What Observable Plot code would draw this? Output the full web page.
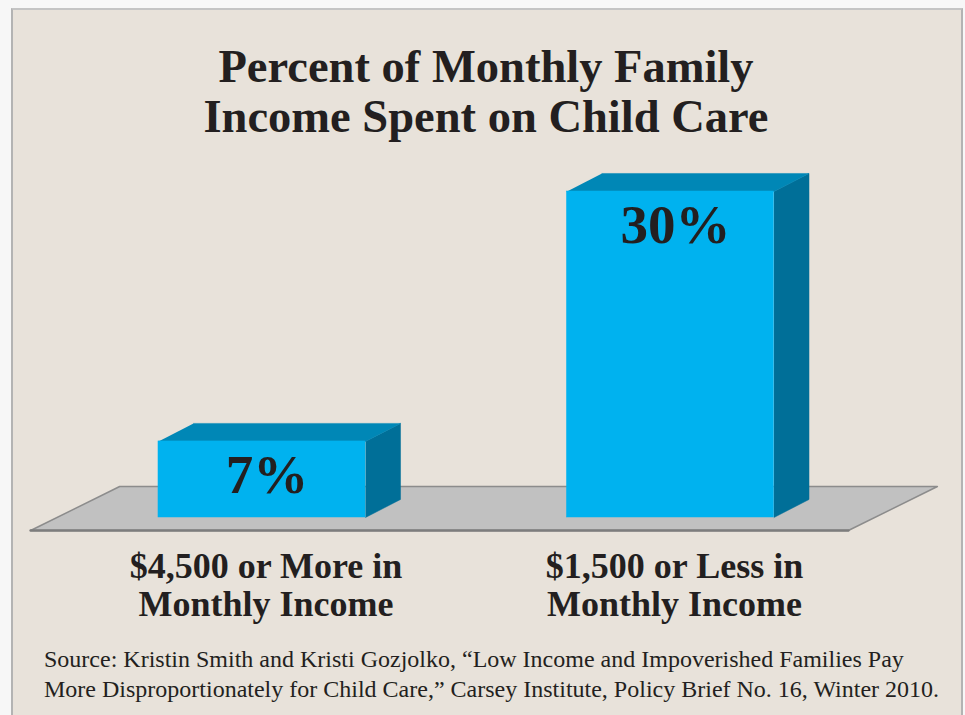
<!DOCTYPE html>
<html>
<head>
<meta charset="utf-8">
<script src="https://cdn.jsdelivr.net/npm/d3@7"></script>
<script src="https://cdn.jsdelivr.net/npm/@observablehq/plot@0.6"></script>
<style>
  html, body { margin: 0; padding: 0; background: #f7f7f7; width: 965px; height: 715px; overflow: hidden; }
  #panel { position: absolute; left: 11px; top: 8px; width: 948px; height: 720px; background: #e8e2da;
           border-left: 2px solid #b3b3b3; border-top: 2px solid #c4c4c4; border-right: 2px solid #b3b3b3; }
  #title { position: absolute; left: 0; top: 42px; width: 972px; text-align: center;
           font: bold 46.5px/50px "Liberation Serif", "Times New Roman", serif; color: #231f20; }
  #chart { position: absolute; left: 0; top: 150px; }
  #source { position: absolute; left: 44px; top: 644px; width: 915px; white-space: nowrap;
            font: 24px/30px "Liberation Serif", "Times New Roman", serif; color: #231f20; }
</style>
</head>
<body>
<div id="panel"></div>
<div id="title">Percent of Monthly Family<br>Income Spent on Child Care</div>
<div id="chart"></div>
<div id="source">Source: Kristin Smith and Kristi Gozjolko, “Low Income and Impoverished Families Pay<br>More Disproportionately for Child Care,” Carsey Institute, Policy Brief No. 16, Winter 2010.</div>
<script>
// ---- data ----
const categories = ["$4,500 or More in\nMonthly Income", "$1,500 or Less in\nMonthly Income"];
const values = [7, 30];
const valueLabels = ["7%", "30%"];

// ---- style / geometry (in data units) ----
const halfW = 0.2534;   // half width of a bar's front face
const depthX = 0.0857;  // oblique depth, x
const depthY = 1.66;    // oblique depth, y
const floorFront = -1.2, floorBack = 2.85;
const floorLeftPad = 0.313, floorRightPad = 0.182, floorSlant = 0.218;

const bars = values.map((v, i) => ({i, v, label: valueLabels[i], cat: categories[i]}));

const fronts = [], tops = [], sides = [];
bars.forEach(({i, v}) => {
  const l = i - halfW, r = i + halfW;
  fronts.push({x1: l, x2: r, y1: 0, y2: v});
  [[l, v], [r, v], [r + depthX, v + depthY], [l + depthX, v + depthY]].forEach(([x, y]) => tops.push({id: i, x, y}));
  [[r, 0], [r + depthX, depthY], [r + depthX, v + depthY], [r, v]].forEach(([x, y]) => sides.push({id: i, x, y}));
});
const fl = -halfW - floorLeftPad, fr = (bars.length - 1) + halfW + floorRightPad;
const floor = [[fl, floorFront], [fr, floorFront], [fr + floorSlant, floorBack], [fl + floorSlant, floorBack], [fl, floorFront]]
  .map(([x, y]) => ({x, y}));
const floorFrontEdge = [{x: fl, y: floorFront}, {x: fr, y: floorFront}];

const chart = Plot.plot({
  width: 965, height: 480,
  margin: 0,
  style: {background: "transparent", overflow: "visible"},
  x: {type: "linear", domain: [0, 1], range: [261.5, 670], axis: null},
  y: {type: "linear", domain: [0, 30], range: [367, 41], axis: null},
  marks: [
    Plot.line(floor, {x: "x", y: "y", fill: "#c1c1c1", stroke: "#8c8c8c", strokeWidth: 1.5}),
    Plot.line(floorFrontEdge, {x: "x", y: "y", stroke: "#7d7d7d", strokeWidth: 2.5}),
    Plot.line(sides, {x: "x", y: "y", z: "id", fill: "#006f98", stroke: "#006f98", strokeWidth: 0.5}),
    Plot.line(tops, {x: "x", y: "y", z: "id", fill: "#0087b6", stroke: "#0087b6", strokeWidth: 0.5}),
    Plot.rect(fronts, {x1: "x1", x2: "x2", y1: "y1", y2: "y2", fill: "#00b2ef", stroke: "#00b2ef", strokeWidth: 0.5}),
    Plot.text(bars, {x: "i", y: "v", text: "label", dy: 34, dx: 5, fontSize: 55, fontWeight: "bold",
      fontFamily: "Liberation Serif, Times New Roman, serif", fill: "#231f20"}),
    Plot.text(bars, {x: "i", y: 0, text: "cat", dy: 33, dx: 4, lineAnchor: "top", lineHeight: 1.06, fontSize: 36,
      fontWeight: "bold", fontFamily: "Liberation Serif, Times New Roman, serif", fill: "#231f20"})
  ]
});
document.getElementById("chart").appendChild(chart);
</script>
</body>
</html>
